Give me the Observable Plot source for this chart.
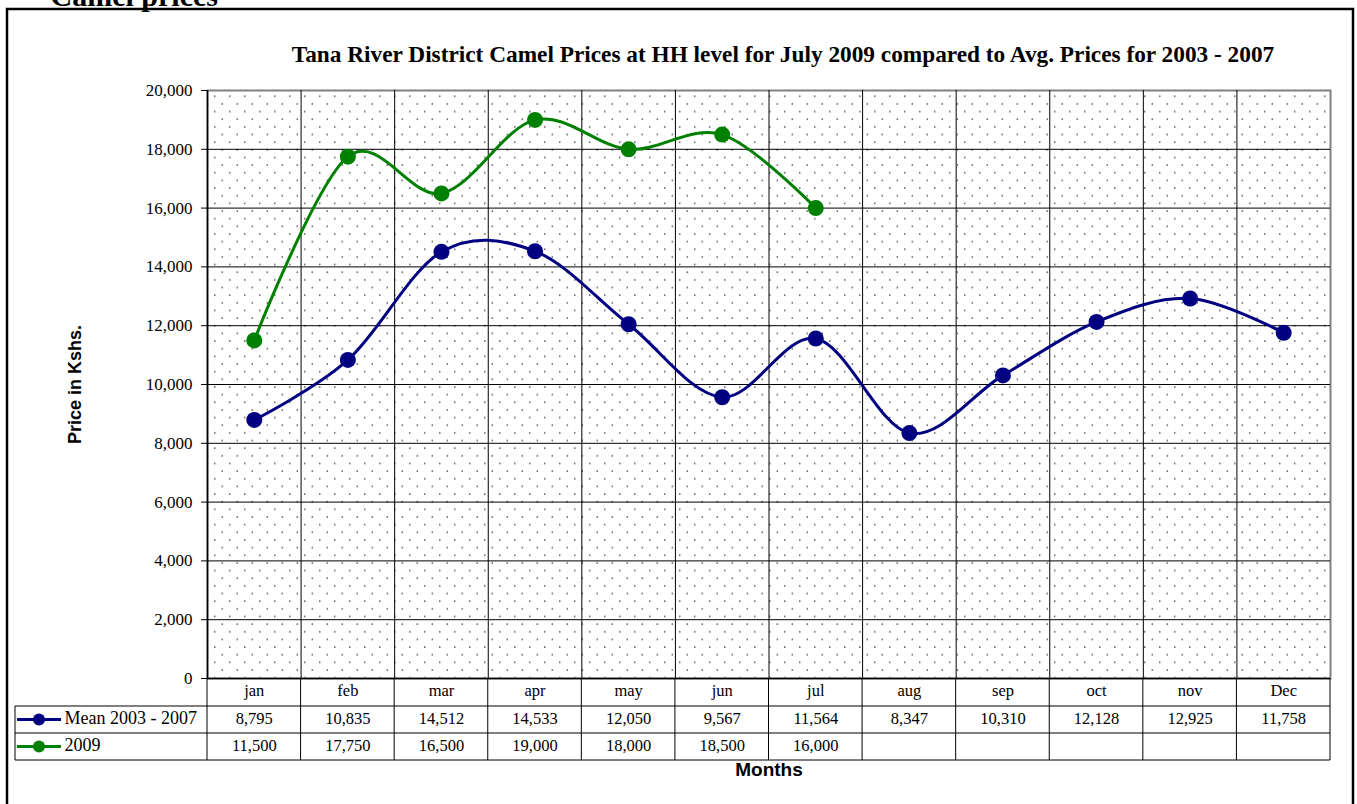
<!DOCTYPE html>
<html>
<head>
<meta charset="utf-8">
<script src="https://cdn.jsdelivr.net/npm/d3@7"></script>
<script src="https://cdn.jsdelivr.net/npm/@observablehq/plot@0.6"></script>
<style>
  html, body { margin: 0; padding: 0; background: #fff; }
  svg { display: block; }
</style>
</head>
<body>
<div id="chart"></div>
<script>
const months = ["jan","feb","mar","apr","may","jun","jul","aug","sep","oct","nov","Dec"];
const meanValues = [8795,10835,14512,14533,12050,9567,11564,8347,10310,12128,12925,11758];
const values2009 = [11500,17750,16500,19000,18000,18500,16000];
const seriesNames = ["Mean 2003 - 2007", "2009"];
const seriesColors = ["#000080", "#008000"];
const yTicks = [0,2000,4000,6000,8000,10000,12000,14000,16000,18000,20000];

const fmt = d3.format(",");
const meanData = meanValues.map((v, i) => ({i, v}));
const data2009 = values2009.map((v, i) => ({i, v}));
const serif = "Liberation Serif, Times New Roman, serif";
const sans = "Liberation Sans, Arial, sans-serif";

const W = 1357, H = 804;
const plot = Plot.plot({
  width: W, height: H,
  marginLeft: 207, marginRight: 27, marginTop: 90, marginBottom: 126,
  style: {background: "#fff", fontFamily: serif, color: "#000", overflow: "visible"},
  x: {domain: [0, 12], axis: null},
  y: {domain: [0, 20000], axis: null},
  marks: [
    Plot.frame({fill: "url(#dots)", stroke: "#808080", strokeWidth: 2}),
    Plot.ruleY(yTicks.slice(0, -1), {stroke: "#000", strokeWidth: 1}),
    Plot.ruleX(d3.range(0, 12), {stroke: "#000", strokeWidth: 1}),
    Plot.ruleX([0], {stroke: "#000", strokeWidth: 1.5}),
    Plot.ruleY([0], {stroke: "#000", strokeWidth: 1.5}),
    Plot.axisY({ticks: yTicks, tickFormat: fmt, tickSize: 6, tickPadding: 9, fontSize: 17, label: null, fontFamily: serif}),
    Plot.line(meanData, {x: d => d.i + 0.5, y: "v", stroke: seriesColors[0], strokeWidth: 3, curve: "cardinal", tension: 0}),
    Plot.dot(meanData, {x: d => d.i + 0.5, y: "v", r: 8, fill: seriesColors[0]}),
    Plot.line(data2009, {x: d => d.i + 0.5, y: "v", stroke: seriesColors[1], strokeWidth: 3, curve: "cardinal", tension: 0}),
    Plot.dot(data2009, {x: d => d.i + 0.5, y: "v", r: 8, fill: seriesColors[1]}),
    // data table text
    Plot.text(months, {x: (d, i) => i + 0.5, text: d => d, frameAnchor: "bottom", dy: 17, fontSize: 16.5, fontFamily: serif}),
    Plot.text(meanValues, {x: (d, i) => i + 0.5, text: d => fmt(d), frameAnchor: "bottom", dy: 45, fontSize: 16.5, fontFamily: serif}),
    Plot.text(values2009, {x: (d, i) => i + 0.5, text: d => fmt(d), frameAnchor: "bottom", dy: 72, fontSize: 16.5, fontFamily: serif}),
    // legend labels in table
    Plot.text([seriesNames[0]], {frameAnchor: "bottom-left", dx: -143, dy: 45, textAnchor: "start", fontSize: 18, fontFamily: serif}),
    Plot.text([seriesNames[1]], {frameAnchor: "bottom-left", dx: -143, dy: 72, textAnchor: "start", fontSize: 18, fontFamily: serif}),
    // titles
    Plot.text(["Tana River District Camel Prices at HH level for July 2009 compared to Avg. Prices for 2003 - 2007"],
      {frameAnchor: "top", dx: 14, dy: -45, fontSize: 23.3, fontWeight: "bold", fontFamily: serif}),
    Plot.text(["Camel prices"], {frameAnchor: "top-left", dx: -157, dy: -85, lineAnchor: "bottom", textAnchor: "start", fontSize: 30, fontWeight: "bold", fontFamily: serif}),
    Plot.text(["Price in Kshs."], {frameAnchor: "left", dx: -132, rotate: -90, textAnchor: "middle", fontSize: 18, fontWeight: "bold", fontFamily: sans}),
    Plot.text(["Months"], {frameAnchor: "bottom", dy: 97, textAnchor: "middle", fontSize: 19, fontWeight: "bold", fontFamily: sans})
  ]
});

const svg = d3.select(plot);
const defs = svg.insert("defs", ":first-child");
const pat = defs.append("pattern").attr("id", "dots").attr("patternUnits", "userSpaceOnUse")
  .attr("x", 210.55).attr("y", 91.9).attr("width", 15).attr("height", 15.3);
pat.append("circle").attr("cx", 3.75).attr("cy", 3.8).attr("r", 0.8).attr("fill", "#333");
pat.append("circle").attr("cx", 11.25).attr("cy", 11.45).attr("r", 0.8).attr("fill", "#333");

// table grid, legend samples and outer border
const xs = plot.scale("x"), ys = plot.scale("y");
const x12 = xs.apply(12), yb = ys.apply(0);
const g = svg.append("g").attr("stroke", "#000").attr("stroke-width", 1).attr("fill", "none");
const rowY = [yb + 28, yb + 55, yb + 82];
for (let i = 0; i <= 12; i++) {
  const x = xs.apply(i);
  g.append("line").attr("x1", x).attr("x2", x).attr("y1", yb).attr("y2", rowY[2]);
}
g.append("line").attr("x1", 15).attr("x2", 15).attr("y1", rowY[0]).attr("y2", rowY[2]);
rowY.forEach(y => g.append("line").attr("x1", 15).attr("x2", x12).attr("y1", y).attr("y2", y));
[0, 1].forEach(k => {
  const cy = (rowY[k] + rowY[k + 1]) / 2;
  svg.append("line").attr("x1", 17).attr("x2", 61).attr("y1", cy).attr("y2", cy).attr("stroke", seriesColors[k]).attr("stroke-width", 3);
  svg.append("circle").attr("cx", 39).attr("cy", cy).attr("r", 6).attr("fill", seriesColors[k]);
});
svg.append("rect").attr("x", 7).attr("y", 9).attr("width", 1346).attr("height", 805)
  .attr("fill", "none").attr("stroke", "#000").attr("stroke-width", 2.5);

document.getElementById("chart").appendChild(plot);
</script>
</body>
</html>
